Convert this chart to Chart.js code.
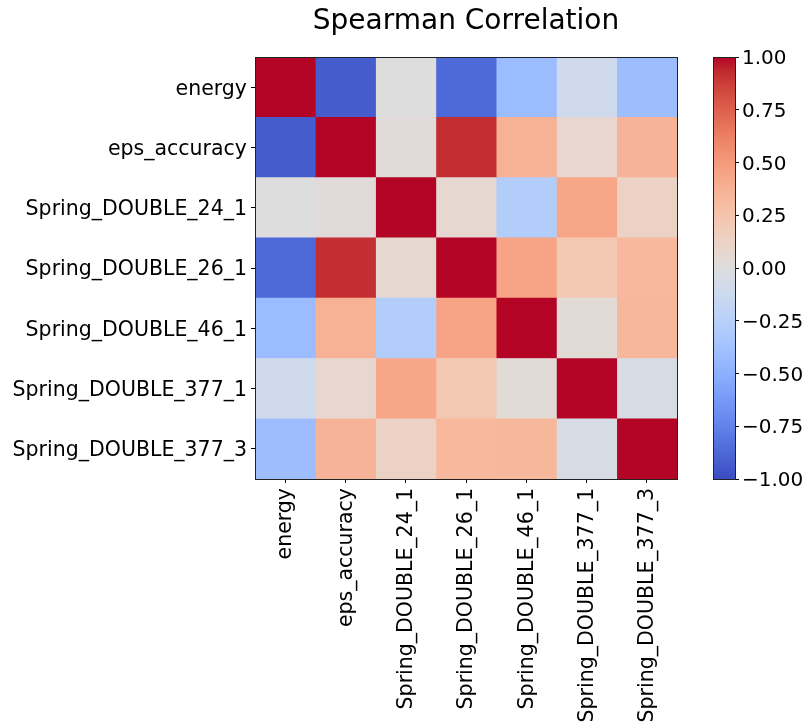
<!DOCTYPE html>
<html>
<head>
<meta charset="utf-8">
<script src="https://cdn.jsdelivr.net/npm/chart.js@4.4.0/dist/chart.umd.min.js"></script>
<style>
  html, body { margin: 0; padding: 0; background: #fff; }
  #wrap { position: relative; width: 807px; height: 726px; }
  #heat { position: absolute; left: 0; top: 0; }
  #cbar { position: absolute; left: 690px; top: 0; }
</style>
</head>
<body>
<div id="wrap">
  <canvas id="heat" width="807" height="726"></canvas>
  <canvas id="cbar" width="117" height="726"></canvas>
</div>
<script>
// variables (same order for rows and columns)
var labels = ["energy", "eps_accuracy", "Spring_DOUBLE_24_1", "Spring_DOUBLE_26_1",
              "Spring_DOUBLE_46_1", "Spring_DOUBLE_377_1", "Spring_DOUBLE_377_3"];

// spearman correlation, one row per variable
var energy      = [ 1.00, -0.93,  0.00, -0.87, -0.42, -0.11, -0.41];
var epsAccuracy = [-0.93,  1.00,  0.02,  0.92,  0.37,  0.08,  0.36];
var spring24_1  = [ 0.00,  0.02,  1.00,  0.07, -0.28,  0.44,  0.13];
var spring26_1  = [-0.87,  0.92,  0.07,  1.00,  0.45,  0.22,  0.33];
var spring46_1  = [-0.42,  0.37, -0.28,  0.45,  1.00,  0.04,  0.34];
var spring377_1 = [-0.11,  0.08,  0.44,  0.22,  0.04,  1.00, -0.05];
var spring377_3 = [-0.41,  0.36,  0.13,  0.33,  0.34, -0.05,  1.00];
var matrix = [energy, epsAccuracy, spring24_1, spring26_1, spring46_1, spring377_1, spring377_3];

var cbarTicks = [-1, -0.75, -0.5, -0.25, 0, 0.25, 0.5, 0.75, 1];

// coolwarm colormap (Moreland), -1 .. 1
var coolwarm = [
  [59,76,192],[68,90,204],[77,104,215],[87,117,225],[98,130,234],[108,142,241],
  [119,154,247],[130,165,251],[141,176,254],[152,185,255],[163,194,255],[174,201,253],
  [184,208,249],[194,213,244],[204,217,238],[213,219,230],[221,221,221],[229,216,209],
  [236,211,197],[241,204,185],[245,196,173],[247,187,160],[247,177,148],[247,166,135],
  [244,154,123],[241,141,111],[236,127,99],[229,112,88],[222,96,77],[213,80,66],
  [203,62,56],[192,40,47],[180,4,38]
];
function cmap(v) {
  var t = (v + 1) / 2 * (coolwarm.length - 1);
  var i = Math.max(0, Math.min(Math.floor(t), coolwarm.length - 2));
  var f = t - i, a = coolwarm[i], b = coolwarm[i + 1];
  var c = [0, 1, 2].map(function (k) { return Math.round(a[k] + (b[k] - a[k]) * f); });
  return "rgb(" + c.join(",") + ")";
}

Chart.defaults.font.family = "'DejaVu Sans', sans-serif";
Chart.defaults.color = "#000";

var frame = {
  id: "frame",
  afterDatasetsDraw: function (chart) {
    var a = chart.chartArea, c = chart.ctx;
    c.save();
    c.strokeStyle = "#222";
    c.lineWidth = 1;
    c.strokeRect(Math.round(a.left) + 0.5, Math.round(a.top) + 0.5,
                 Math.round(a.right - a.left), Math.round(a.bottom - a.top));
    c.restore();
  }
};

// each column is a stacked horizontal dataset, one unit wide
var datasets = labels.map(function (col, j) {
  return {
    label: col,
    data: matrix.map(function () { return 1; }),
    backgroundColor: matrix.map(function (row) { return cmap(row[j]); }),
    xAxisID: "xv",
    yAxisID: "y",
    borderWidth: 0,
    barPercentage: 1,
    categoryPercentage: 1
  };
});

new Chart(document.getElementById("heat"), {
  type: "bar",
  data: { labels: labels, datasets: datasets },
  options: {
    indexAxis: "y",
    responsive: false,
    animation: false,
    layout: { padding: { left: 0, right: 130, top: 0, bottom: 0 } },
    plugins: {
      legend: { display: false },
      tooltip: { enabled: false },
      title: {
        display: true,
        text: "Spearman Correlation",
        fullSize: false,
        font: { size: 28, weight: "normal" },
        padding: { top: 5, bottom: 18.5 }
      }
    },
    scales: {
      xv: {
        type: "linear",
        display: false,
        stacked: true,
        min: 0,
        max: labels.length
      },
      x: {
        type: "category",
        position: "bottom",
        labels: labels,
        offset: true,
        grid: { offset: false, drawOnChartArea: false, tickLength: 4, color: "#000" },
        border: { display: false },
        ticks: { font: { size: 20.5 }, minRotation: 90, maxRotation: 90, padding: 5, labelOffset: 1, autoSkip: false },
        afterFit: function (s) { s.height = 247; }
      },
      y: {
        type: "category",
        stacked: true,
        offset: true,
        grid: { offset: false, drawOnChartArea: false, tickLength: 4, color: "#000" },
        border: { display: false },
        ticks: { font: { size: 20.5 }, padding: 4, labelOffset: 2, autoSkip: false },
        afterFit: function (s) { s.width = 255; }
      }
    }
  },
  plugins: [frame]
});

// colour bar
function barGradient(ctx) {
  var a = ctx.chart.chartArea;
  if (!a) return "#ddd";
  var g = ctx.chart.ctx.createLinearGradient(0, a.bottom, 0, a.top);
  coolwarm.forEach(function (c, i) {
    g.addColorStop(i / (coolwarm.length - 1), "rgb(" + c.join(",") + ")");
  });
  return g;
}

new Chart(document.getElementById("cbar"), {
  type: "bar",
  data: {
    labels: [""],
    datasets: [{
      data: [[cbarTicks[0], cbarTicks[cbarTicks.length - 1]]],
      backgroundColor: barGradient,
      borderWidth: 0,
      barPercentage: 1,
      categoryPercentage: 1
    }]
  },
  options: {
    responsive: false,
    animation: false,
    layout: { padding: { left: 23, right: 0, top: 57, bottom: 247 } },
    plugins: { legend: { display: false }, tooltip: { enabled: false } },
    scales: {
      x: { display: false },
      y: {
        position: "right",
        min: cbarTicks[0],
        max: cbarTicks[cbarTicks.length - 1],
        afterBuildTicks: function (s) {
          s.ticks = cbarTicks.map(function (v) { return { value: v }; });
        },
        grid: { drawOnChartArea: false, tickLength: 4, color: "#000" },
        border: { display: false },
        ticks: {
          font: { size: 20 },
          padding: 3,
          labelOffset: 2,
          callback: function (v) { return v.toFixed(2).replace("-", "\u2212"); }
        },
        afterFit: function (s) { s.width = 72; }
      }
    }
  },
  plugins: [frame]
});
</script>
</body>
</html>
